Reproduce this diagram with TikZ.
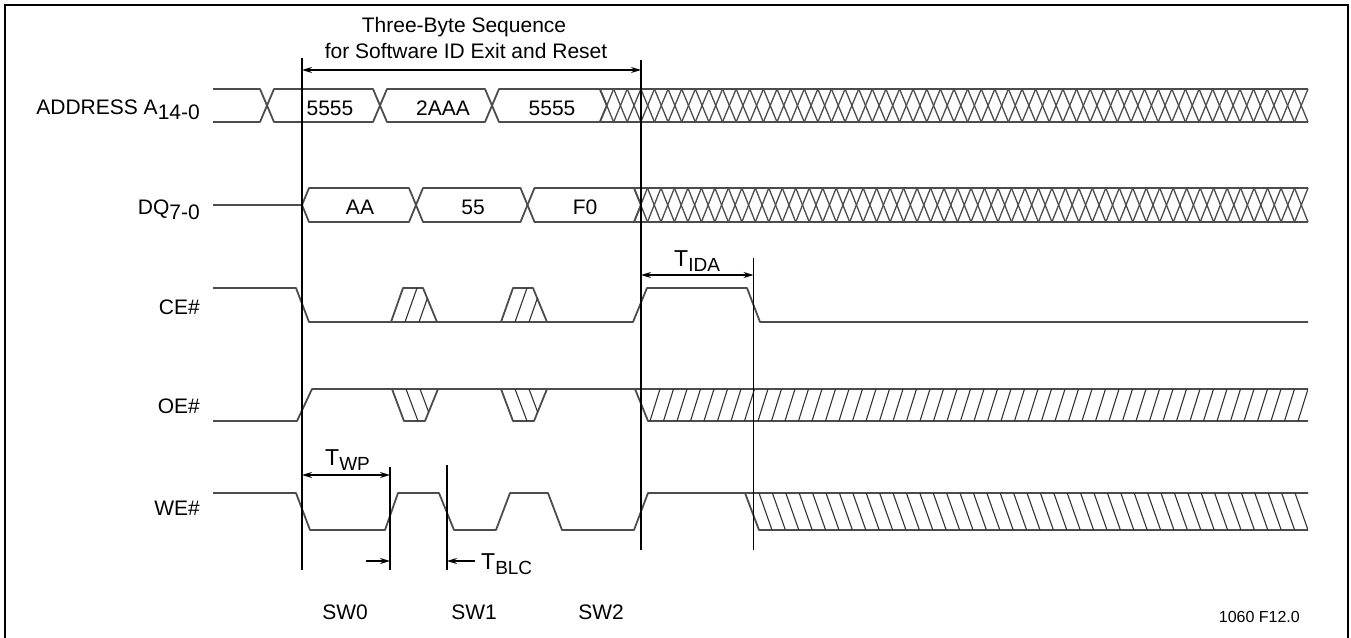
\documentclass[tikz,border=0pt]{standalone}
\usepackage{fontspec}
\setmainfont{Liberation Sans}
\usetikzlibrary{arrows.meta}

\newcommand{\lowsub}[1]{\raisebox{-5pt}{#1}}
\newcommand{\tsub}[1]{\raisebox{-5pt}{\fontsize{19}{20}\selectfont #1}}

\tikzset{
  sigline/.style={line width=1.8pt, black!70, line join=round},
  crossline/.style={line width=1.3pt, black!70},
  hatchline/.style={line width=1.1pt, black!80},
  markline/.style={line width=1.5pt, black},
  dimarrow/.style={line width=1.3pt, black},
  siglabel/.style={anchor=base east, inner sep=0pt, font=\fontsize{21}{24}\selectfont},
  buslabel/.style={anchor=base, inner sep=0pt, font=\fontsize{21}{24}\selectfont},
  tlabel/.style={anchor=base west, inner sep=0pt, font=\fontsize{23}{26}\selectfont},
}

\begin{document}
\begin{tikzpicture}[x=1pt, y=-1pt, >={Stealth[length=10pt,width=6pt]}]
    \useasboundingbox (0,0) rectangle (1351,637);
    \draw[line width=2.5pt] (5,642) -- (5,5) -- (1348,5) -- (1348,642);

    % signal names
    \node[siglabel] (addr) at (200,114) {ADDRESS A\lowsub{14-0}};
    \node[siglabel] (dq) at (200,214) {DQ\lowsub{7-0}};
    \node[siglabel] (ce) at (200,314) {CE\#};
    \node[siglabel] (oe) at (200,413) {OE\#};
    \node[siglabel] (we) at (200,515) {WE\#};

    % address bus
    \draw[sigline] (213,89) -- (260,89) -- (267,105.5) -- (260,122) -- (213,122);
    \foreach \a/\b/\t/\c [count=\n] in {267/380/5555/330, 380/492/2AAA/443, 492/606.8/5555/552} {
        \draw[sigline] (\a,105.5) -- (\a+7,89) -- (\b-7,89) -- (\b,105.5) -- (\b-7,122) -- (\a+7,122) -- cycle;
        \node[buslabel] (adr\n) at (\c,115) {\t};
    }
    \draw[sigline] (600,89) -- (1308,89) (600,122) -- (1308,122);
    \foreach \i in {0,...,51} {
        \draw[crossline] ({600+\i*13.615},89) -- ({600+(\i+1)*13.615},122);
        \draw[crossline] ({600+\i*13.615},122) -- ({600+(\i+1)*13.615},89);
    }

    % data bus
    \draw[sigline] (213,205) -- (302,205);
    \foreach \a/\b/\t/\c [count=\n] in {302/416/AA/360, 416/527.5/55/473, 527.5/641/F0/585} {
        \draw[sigline] (\a,205) -- (\a+7,188) -- (\b-7,188) -- (\b,205) -- (\b-7,222) -- (\a+7,222) -- cycle;
        \node[buslabel] (dat\n) at (\c,214) {\t};
    }
    \draw[sigline] (634,188) -- (1308,188) (634,222) -- (1308,222);
    \foreach \i in {0,...,49} {
        \draw[crossline] ({634+\i*13.48},188) -- ({634+(\i+1)*13.48},222);
        \draw[crossline] ({634+\i*13.48},222) -- ({634+(\i+1)*13.48},188);
    }

    % CE#
    \draw[sigline] (213,288) -- (296,288) -- (309,322) -- (633,322) -- (647,288) -- (747,288) -- (760,322) -- (1308,322);
    \foreach \x in {391,501} {
        \draw[sigline] (\x,322) -- (\x+12,288) -- (\x+32,288) -- (\x+46,322);
        \begin{scope}
            \clip (\x,322) -- (\x+12,288) -- (\x+32,288) -- (\x+46,322) -- cycle;
            \foreach \d in {14,28} \draw[hatchline] (\x+\d,322) -- (\x+\d+12,288);
        \end{scope}
    }

    % OE#
    \draw[sigline] (213,421) -- (297,421) -- (312,389) -- (1308,389);
    \foreach \x in {392,501} {
        \draw[sigline] (\x,389) -- (\x+12,421) -- (\x+33,421) -- (\x+46,389);
        \begin{scope}
            \clip (\x,389) -- (\x+12,421) -- (\x+33,421) -- (\x+46,389) -- cycle;
            \foreach \d in {14,28} \draw[hatchline] (\x+\d,389) -- (\x+\d+12,421);
        \end{scope}
    }
    \draw[sigline] (635,389) -- (648,421) -- (1308,421);
    \begin{scope}
        \clip (635,389) -- (648,421) -- (1308,421) -- (1308,389) -- cycle;
        \foreach \i in {0,...,49} \draw[hatchline] ({650+\i*13.5},421) -- ({660+\i*13.5},389);
    \end{scope}

    % WE#
    \draw[sigline] (213,493) -- (296,493) -- (310,530) -- (385,530) -- (398,493) -- (439,493) -- (454,530)
        -- (496,530) -- (510,493) -- (548,493) -- (562,530) -- (634,530) -- (648,493) -- (1308,493);
    \draw[sigline] (745,493) -- (759,530) -- (1308,530);
    \begin{scope}
        \clip (745,493) -- (759,530) -- (1308,530) -- (1308,493) -- cycle;
        \foreach \i in {0,...,41} \draw[hatchline] ({759+\i*13.4},493) -- ({772+\i*13.4},530);
    \end{scope}

    % reference lines
    \coordinate (m0t) at (302,58);    \coordinate (m0b) at (302,570);
    \coordinate (m1t) at (390,467);   \coordinate (m1b) at (390,570);
    \coordinate (m2t) at (447,465);   \coordinate (m2b) at (447,570);
    \coordinate (m3t) at (641,60);    \coordinate (m3b) at (641,550);
    \coordinate (m4t) at (753.5,258); \coordinate (m4b) at (753.5,550);
    \foreach \m in {m0,m1,m2,m3,m4} \draw[markline] (\m t) -- (\m b);

    % timing arrows
    \coordinate (seqL) at (302,70);   \coordinate (seqR) at (641,70);
    \draw[dimarrow, <->] (seqL) -- (seqR);
    \node[buslabel] (seq1) at (464,32) {Three-Byte Sequence};
    \node[buslabel] (seq2) at (466,58) {for Software ID Exit and Reset};

    \coordinate (idaL) at (641,275);  \coordinate (idaR) at (753.5,275);
    \draw[dimarrow, <->] (idaL) -- (idaR);
    \node[tlabel] (tida) at (674,266) {T\tsub{IDA}};

    \coordinate (wpL) at (302,475);   \coordinate (wpR) at (390,475);
    \draw[dimarrow, <->] (wpL) -- (wpR);
    \node[tlabel] (twp) at (325,465) {T\tsub{WP}};

    \coordinate (wpin) at (366,561);  \coordinate (wpend) at (390,561);
    \draw[dimarrow, ->] (wpin) -- (wpend);
    \coordinate (blcin) at (475,561); \coordinate (blcend) at (447,561);
    \draw[dimarrow, ->] (blcin) -- (blcend);
    \node[tlabel] (tblc) at (481,569) {T\tsub{BLC}};

    % cycle names
    \node[buslabel] (sw0) at (345,619) {SW0};
    \node[buslabel] (sw1) at (474,619) {SW1};
    \node[buslabel] (sw2) at (601,619) {SW2};
    \node[anchor=base east, inner sep=0pt, font=\fontsize{16}{18}\selectfont] (fig) at (1300,622) {1060 F12.0};
\end{tikzpicture}
\end{document}
